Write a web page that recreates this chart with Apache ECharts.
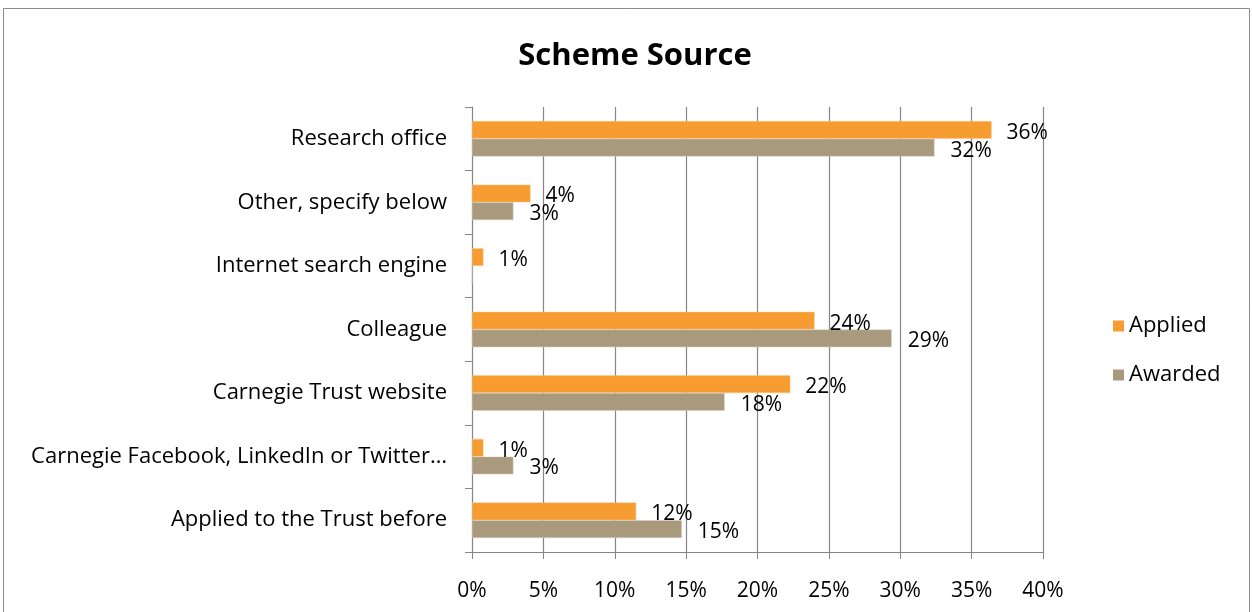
<!DOCTYPE html>
<html>
<head>
<meta charset="utf-8">
<script src="https://cdn.jsdelivr.net/npm/echarts@6/dist/echarts.min.js"></script>
<style>
  html, body { margin: 0; padding: 0; background: #fff; }
  #main { width: 1252px; height: 612px; }
</style>
</head>
<body>
<div id="main"></div>
<script>
// categories, bottom to top as the axis draws them
var categories = [
    "Applied to the Trust before",
    "Carnegie Facebook, LinkedIn or Twitter\u2026",
    "Carnegie Trust website",
    "Colleague",
    "Internet search engine",
    "Other, specify below",
    "Research office"
];
// percent values
var applied = [11.5, 0.8, 22.3, 24.0, 0.8, 4.1, 36.4];
var awarded = [14.7, 2.9, 17.7, 29.4, 0, 2.9, 32.4];
var xTicks = [0, 5, 10, 15, 20, 25, 30, 35, 40];

var font = "Open Sans";

function pctLabel(p) {
    if (!p.value) return '';
    return Math.round(p.value) + '%';
}

var chart = echarts.init(document.getElementById('main'));

var option = {
    animation: false,
    textStyle: { fontFamily: font },
    graphic: [{
        type: 'rect',
        shape: { x: 3.5, y: 8.5, width: 1246, height: 640 },
        style: { fill: 'none', stroke: '#8c8c8c', lineWidth: 1 },
        silent: true
    }],
    title: {
        text: 'Scheme Source',
        left: 630,
        textAlign: 'center',
        top: 36,
        textStyle: { fontFamily: font, fontSize: 31, fontWeight: 'bold', color: '#000' }
    },
    legend: {
        data: ['Applied', 'Awarded'],
        orient: 'vertical',
        left: 1108,
        top: 310,
        itemWidth: 11,
        itemHeight: 11,
        itemGap: 27,
        icon: 'rect',
        itemStyle: { borderWidth: 0 },
        textStyle: { fontFamily: font, fontSize: 22, color: '#000' }
    },
    grid: { left: 472, right: 209, top: 107, bottom: 60 },
    xAxis: {
        type: 'value',
        min: xTicks[0],
        max: xTicks[xTicks.length - 1],
        interval: 5,
        axisLine: { show: true, lineStyle: { color: '#868686' } },
        axisTick: { show: true, length: 7, lineStyle: { color: '#868686' } },
        splitLine: { show: true, lineStyle: { color: '#868686', width: 1.2 } },
        axisLabel: { formatter: '{value}%', fontFamily: font, fontSize: 21, color: '#000', margin: 29 }
    },
    yAxis: {
        type: 'category',
        data: categories,
        axisLine: { show: true, lineStyle: { color: '#868686' } },
        axisTick: { show: true, length: 7, lineStyle: { color: '#868686' } },
        axisLabel: { fontFamily: font, fontSize: 22, color: '#000', margin: 25, padding: [5, 0, 0, 0] }
    },
    series: [{
        name: 'Applied',
        type: 'bar',
        data: applied,
        barWidth: 17.7,
        barGap: '0%',
        barCategoryGap: '44%',
        itemStyle: { color: '#f79c31', borderColor: '#fbc98f', borderWidth: 0.5 },
        label: { show: true, position: 'right', distance: 15, offset: [0, 3], formatter: pctLabel, fontFamily: font, fontSize: 21, color: '#000' }
    }, {
        name: 'Awarded',
        type: 'bar',
        data: awarded,
        barWidth: 17.7,
        barGap: '0%',
        barCategoryGap: '44%',
        itemStyle: { color: '#a99a7e', borderColor: '#d9cfbf', borderWidth: 0.5 },
        label: { show: true, position: 'right', distance: 16, offset: [0, 3], formatter: pctLabel, fontFamily: font, fontSize: 21, color: '#000' }
    }]
};

chart.setOption(option);
</script>
</body>
</html>
